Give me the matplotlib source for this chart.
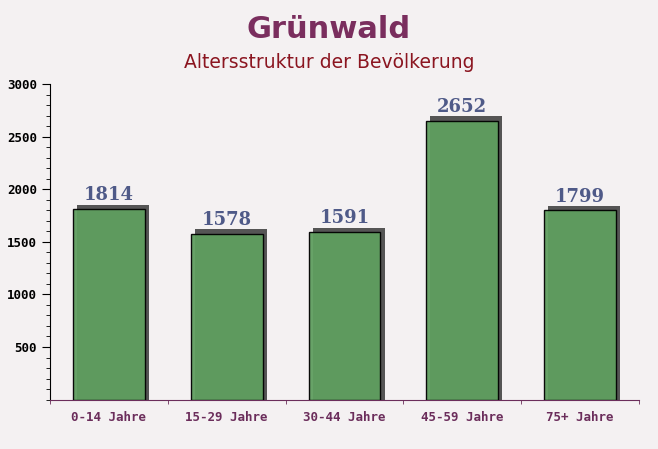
import matplotlib
matplotlib.use('Agg')
import matplotlib.pyplot as plt
from matplotlib.ticker import MultipleLocator

# data
categories = ["0-14 Jahre", "15-29 Jahre", "30-44 Jahre", "45-59 Jahre", "75+ Jahre"]
values = [1814, 1578, 1591, 2652, 1799]

fig = plt.figure(figsize=(6.58, 4.49), dpi=100)
fig.patch.set_facecolor('#f4f1f2')
ax = fig.add_axes([50 / 658, 1 - 399.6 / 449, 589 / 658, 315.6 / 449])
ax.set_facecolor('none')

xs = list(range(len(categories)))
w = 0.61
# shadow first, offset a bit right/up
ax.bar([x + 0.035 for x in xs], [v + 40 for v in values], width=w,
       color='#555555', zorder=2)
ax.bar(xs, values, width=w, color='#5f9e5f', edgecolor='black',
       linewidth=1.0, alpha=0.95, zorder=3)

for x, v in zip(xs, values):
    ax.text(x, v + 45, str(v), ha='center', va='bottom', fontsize=13,
            fontweight='bold', family='DejaVu Serif', color='#4f5a88', zorder=4)

ax.set_xlim(-0.5, 4.5)
ax.set_ylim(0, 3000)
ax.set_xticks(xs)
ax.set_xticklabels(categories, family='DejaVu Sans Mono', fontsize=9,
                   fontweight='bold', color='#6b2d5b')
ax.xaxis.set_minor_locator(MultipleLocator(1, offset=0.5))
ax.tick_params(axis='x', which='major', length=0, pad=8)
ax.tick_params(axis='x', which='minor', length=3, color='#6b2d5b')
ax.set_yticks([500, 1000, 1500, 2000, 2500, 3000])
ax.yaxis.set_minor_locator(MultipleLocator(100))
ax.tick_params(axis='y', which='major', length=6, labelsize=9)
ax.tick_params(axis='y', which='minor', length=3)
for lab in ax.get_yticklabels():
    lab.set_family('DejaVu Sans Mono')
    lab.set_fontweight('bold')

ax.spines['top'].set_visible(False)
ax.spines['right'].set_visible(False)
ax.spines['bottom'].set_color('#6b2d5b')

fig.text(0.5, 1 - 30 / 449, "Grünwald", ha='center', va='center',
         fontsize=22, fontweight='bold', color='#7a2e5e')
fig.text(0.5, 1 - 63 / 449, "Altersstruktur der Bevölkerung", ha='center',
         va='center', fontsize=13.5, color='#8b1520')

fig.savefig('out.png', dpi=100, facecolor=fig.get_facecolor())
